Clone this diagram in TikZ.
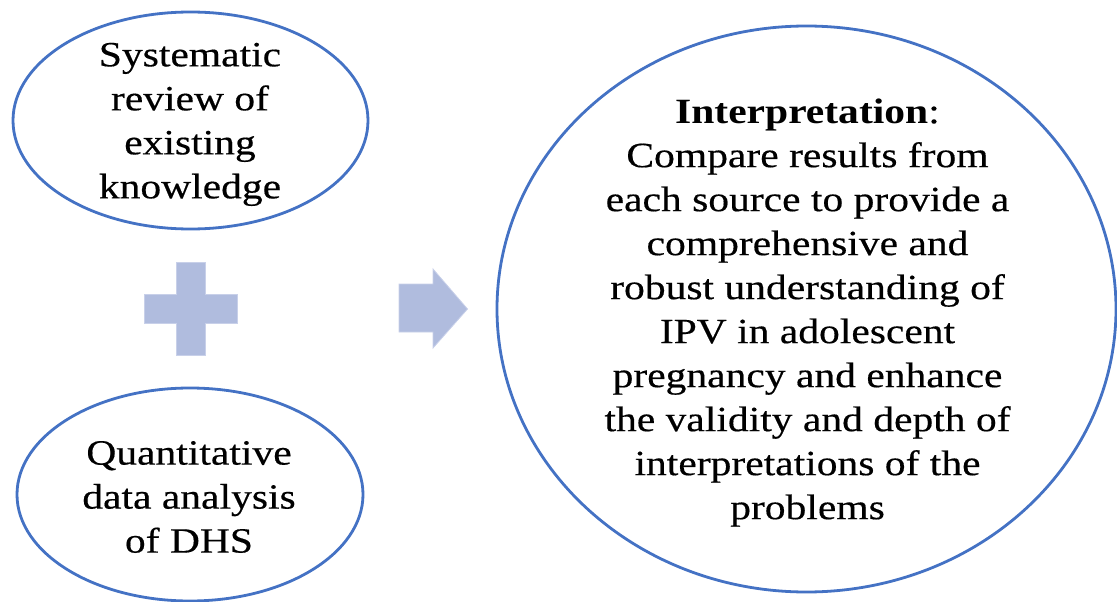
\documentclass[tikz,border=0pt]{standalone}
\usepackage{fontspec}
\setmainfont{Liberation Serif}[FakeStretch=1.17, UprightFeatures={FakeBold=0.4}]
\usetikzlibrary{shapes.geometric}
\definecolor{ringblue}{HTML}{4472C4}
\definecolor{softblue}{HTML}{B0BCDE}
\definecolor{softedge}{HTML}{C8D0E9}
\tikzset{
  ringshape/.style={ellipse, draw=ringblue, line width=2.8pt, inner sep=0pt},
  bodytext/.style={align=center, inner sep=0pt, font=\fontsize{35.5}{44}\selectfont},
  softshape/.style={fill=softblue, draw=softedge, line width=0.8pt}
}
\begin{document}
\begin{tikzpicture}[x=1pt,y=-1pt]
\useasboundingbox (0,0) rectangle (1117,602);
% ellipses
\node[ringshape, minimum width=355pt, minimum height=217pt] (sys) at (190.5,120.5) {};
\node[ringshape, minimum width=346pt, minimum height=213pt] (qda) at (190,494.5) {};
\node[ringshape, minimum width=619pt, minimum height=566pt] (interp) at (806.5,309) {};
% texts
\node[bodytext] (systext) at (190,124.4) {Systematic\\review of\\existing\\knowledge};
\node[bodytext] (qdatext) at (189,497) {Quantitative\\data analysis\\of DHS};
\node[bodytext] (interptext) at (807.5,312.6) {\textbf{Interpretation}:\\Compare results from\\each source to provide a\\comprehensive and\\robust understanding of\\IPV in adolescent\\pregnancy and enhance\\the validity and depth of\\interpretations of the\\problems};
% plus sign
\path[softshape] (176,262) -- (205,262) -- (205,294) -- (237,294) -- (237,323) -- (205,323) -- (205,355) -- (176,355) -- (176,323) -- (144,323) -- (144,294) -- (176,294) -- cycle;
% block arrow
\path[softshape] (399,284) -- (433,284) -- (433,269) -- (467.5,309) -- (433,348) -- (433,332) -- (399,332) -- cycle;
\end{tikzpicture}
\end{document}
